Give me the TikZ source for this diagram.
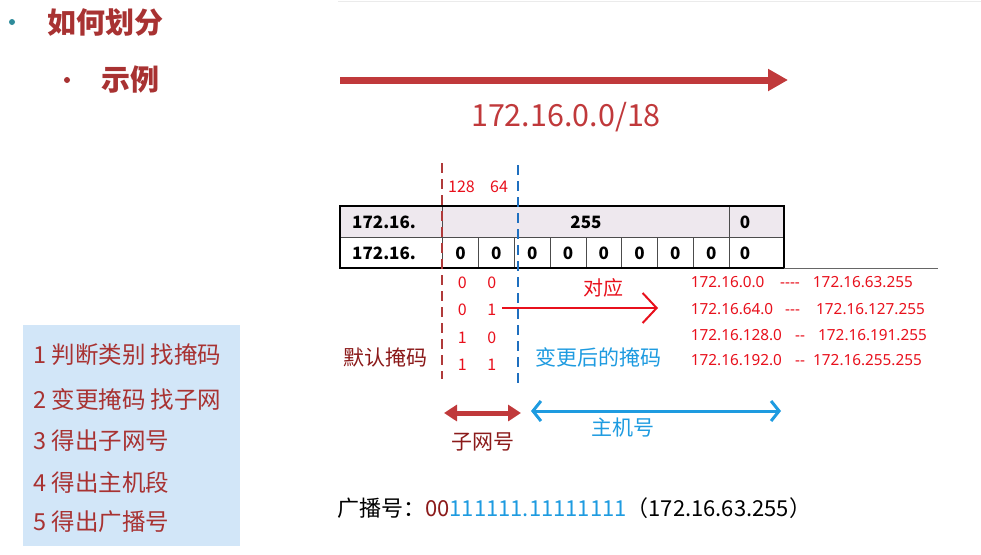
\documentclass[tikz,border=0pt]{standalone}
\usepackage{fontspec}
\setmainfont{Noto Sans CJK SC}
\newfontfamily\plainfont{Noto Sans}[Ligatures=TeXOff]
\usetikzlibrary{arrows.meta}
\definecolor{titlered}{RGB}{168,50,50}
\definecolor{arrowred}{RGB}{192,57,59}
\definecolor{bitred}{RGB}{232,16,28}
\definecolor{darkmaroon}{RGB}{139,26,26}
\definecolor{skyblue}{RGB}{30,155,224}
\definecolor{dashblue}{RGB}{31,111,191}
\definecolor{dashred}{RGB}{176,58,58}
\definecolor{boxblue}{RGB}{210,230,248}
\definecolor{dotteal}{RGB}{46,139,154}
\definecolor{rowgray}{RGB}{238,232,238}
\begin{document}
\begin{tikzpicture}[x=1pt,y=-1pt,
    bits/.style={text=bitred,font=\fontsize{16}{16}\selectfont,inner sep=0pt},
    cell/.style={font=\fontsize{17}{17}\selectfont\bfseries,inner sep=0pt},
    rangetext/.style={text=bitred,font=\plainfont\fontsize{15.3}{15.3}\selectfont,inner sep=0pt},
    stepline/.style={text=titlered,font=\fontsize{23.5}{23.5}\selectfont,anchor=west,inner sep=0pt},
    tag/.style={font=\fontsize{21}{21}\selectfont,inner sep=0pt}]
    \useasboundingbox(0,0)rectangle(981,554);
    \draw[black!8,line width=1pt](338,1)--(981,1);
    % heading
    \fill[dotteal](12,22)circle(3);
    \node[anchor=west,inner sep=0pt,text=titlered,font=\fontsize{29}{29}\selectfont\bfseries](h1)at(47,22){如何划分};
    \fill[titlered](67,80)circle(3);
    \node[anchor=west,inner sep=0pt,text=titlered,font=\fontsize{29}{29}\selectfont\bfseries](h2)at(101,80){示例};
    % big arrow
    \coordinate(a1)at(340,80);
    \coordinate(a2)at(788,80);
    \draw[arrowred,line width=7pt,-{Triangle[length=20pt,width=21pt]}](a1)--(a2);
    \node[text=arrowred,font=\fontsize{30.5}{30.5}\selectfont,inner sep=0pt](net)at(566,117){172.16.0.0/18};
    % table
    \fill[rowgray](340,206)rectangle(784,237);
    \draw[black!70,line width=0.8pt](340,237)--(784,237);
    \draw[black!70,line width=0.8pt](442.7,206)--(442.7,268);
    \draw[black!70,line width=0.8pt](729,206)--(729,268);
    \foreach \i in {1,...,7}
        \draw[black!70,line width=0.8pt](442.7+35.8*\i,237)--(442.7+35.8*\i,268);
    \draw[black,line width=2pt](340,206)rectangle(784,268);
    \draw[black!60,line width=0.8pt](784,268)--(938,268);
    \node[cell,anchor=west](r1)at(352,222){172.16.};
    \node[cell,anchor=west](r2)at(352,253){172.16.};
    \node[cell](m)at(586,222){255};
    \node[cell](m0)at(745,222){0};
    \node[cell](e0)at(745,253){0};
    \foreach \i in {0,...,7}
        \node[cell](z\i)at(460.6+35.8*\i,253){0};
    % borders of the subnet bits
    \coordinate(rd1)at(442,163);
    \coordinate(rd2)at(442,379);
    \coordinate(bd1)at(518,165);
    \coordinate(bd2)at(518,383);
    \draw[dashred,line width=2.5pt,dash pattern=on 10pt off 6pt](rd1)--(rd2);
    \draw[dashblue,line width=2.5pt,dash pattern=on 10pt off 6pt](bd1)--(bd2);
    \node[bits](w1)at(461.5,187){128};
    \node[bits](w2)at(499,187){64};
    \foreach \y/\a/\b [count=\n] in {283/0/0,310/0/1,338/1/0,365/1/1}{
        \node[bits](p\n)at(462.3,\y){\a};
        \node[bits](q\n)at(491.7,\y){\b};
    }
    % correspondence
    \node[tag,text=bitred,font=\fontsize{20}{20}\selectfont](dy)at(603,288){对应};
    \coordinate(c1)at(502,308);
    \coordinate(c2)at(658,308);
    \draw[bitred,line width=2pt,-{Straight Barb[length=14pt,width=30pt]}](c1)--(c2);
    \node[tag,text=darkmaroon](mr)at(385.5,357){默认掩码};
    \node[tag,text=skyblue](mb)at(598,357){变更后的掩码};
    \foreach \y/\a/\d/\dx/\b/\bx [count=\n] in {
        287.5/172.16.0.0/----/780/172.16.63.255/913,
        314/172.16.64.0/---/785/172.16.127.255/925,
        340.5/172.16.128.0/--/795/172.16.191.255/927,
        365.5/172.16.192.0/--/795/172.16.255.255/922}{
        \node[rangetext,anchor=base west](s\n)at(690.7,\y){\a};
        \node[rangetext,anchor=base west](d\n)at(\dx,\y){\d};
        \node[rangetext,anchor=base east](f\n)at(\bx,\y){\b};
    }
    % field widths
    \coordinate(sn1)at(444,413);
    \coordinate(sn2)at(521,413);
    \draw[arrowred,line width=5pt,{Triangle[length=13pt,width=16pt]}-{Triangle[length=13pt,width=16pt]}](sn1)--(sn2);
    \node[tag,text=darkmaroon](zw)at(483,442){子网号};
    \coordinate(hn1)at(531,411);
    \coordinate(hn2)at(781,411);
    \draw[skyblue,line width=3pt,{Straight Barb[length=8pt,width=20pt]}-{Straight Barb[length=8pt,width=20pt]}](hn1)--(hn2);
    \node[tag,text=skyblue](zj)at(623,428){主机号};
    % broadcast
    \node[tag,anchor=west,font=\fontsize{22}{22}\selectfont](gb)at(337,508){广播号：\textcolor{darkmaroon}{00}\textcolor{skyblue}{111111.11111111}（172.16.63.255）};
    % steps
    \fill[boxblue](23,325)rectangle(240,546);
    \node[stepline](k1)at(33,355){1 判断类别 找掩码};
    \node[stepline](k2)at(33,399){2 变更掩码 找子网};
    \node[stepline](k3)at(33,441){3 得出子网号};
    \node[stepline](k4)at(33,483){4 得出主机段};
    \node[stepline](k5)at(33,522){5 得出广播号};
\end{tikzpicture}
\end{document}
